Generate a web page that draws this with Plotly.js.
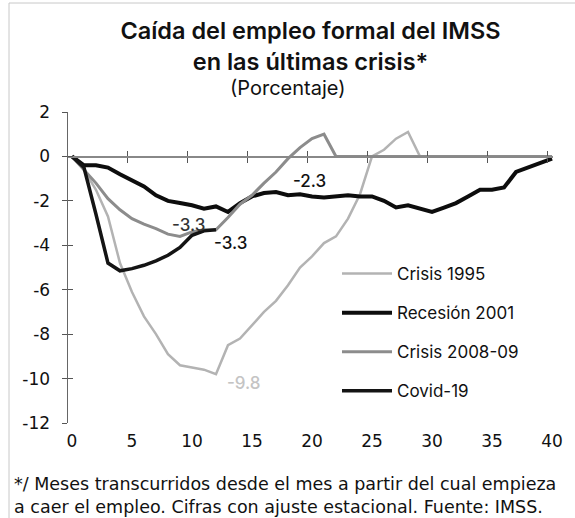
<!DOCTYPE html>
<html>
<head>
<meta charset="utf-8">
<script src="https://cdn.plot.ly/plotly-3.0.1.min.js"></script>
<style>html,body{margin:0;padding:0;background:#fff;}#chart{width:575px;height:518px;}</style>
</head>
<body>
<div id="chart"></div>
<script>
// Months elapsed since employment started to fall
const months = Array.from({length: 41}, (_, i) => i);

// Crisis 1995 (after recovery the series is plotted as zero)
const crisis1995 = [0, -0.6, -1.5, -2.7, -4.8, -6.1, -7.2, -8.0, -8.9, -9.4, -9.5, -9.6, -9.8,
  -8.5, -8.2, -7.6, -7.0, -6.5, -5.8, -5.0, -4.5, -3.9, -3.6, -2.8, -1.7, 0.0, 0.3, 0.8, 1.1,
  0, 0, 0, 0, 0, 0, 0, 0, 0, 0, 0, 0];

// Recesión 2001
const recesion2001 = [0, -0.4, -0.4, -0.5, -0.8, -1.1, -1.35, -1.75, -2.0, -2.1, -2.2, -2.35, -2.25,
  -2.5, -2.1, -1.8, -1.65, -1.6, -1.75, -1.7, -1.8, -1.85, -1.8, -1.75, -1.8, -1.8, -2.0, -2.3,
  -2.2, -2.35, -2.5, -2.3, -2.1, -1.8, -1.5, -1.5, -1.4, -0.7, -0.5, -0.3, -0.1];

// Crisis 2008-09 (after recovery the series is plotted as zero)
const crisis2008 = [0, -0.6, -1.2, -1.9, -2.4, -2.8, -3.05, -3.25, -3.5, -3.6, -3.4, -3.3, -3.3,
  -2.75, -2.15, -1.75, -1.2, -0.7, -0.1, 0.4, 0.8, 1.0,
  0, 0, 0, 0, 0, 0, 0, 0, 0, 0, 0, 0, 0, 0, 0, 0, 0, 0, 0];

// Covid-19
const covid19 = [0, -0.5, -2.6, -4.8, -5.15, -5.05, -4.9, -4.7, -4.45, -4.1, -3.55, -3.35, -3.3];

// Data labels
const labelText = ["-9.8", "-3.3", "-3.3", "-2.3"];
const labelX = [14.3, 9.7, 13.2, 19.8];
const labelY = [-10.2, -3.1, -3.9, -1.1];
const labelColor = ["#c4c4c4", "#333333", "#111111", "#111111"];

const yTicks = [2, 0, -2, -4, -6, -8, -10, -12];
const xTicks = [0, 5, 10, 15, 20, 25, 30, 35, 40];

const FONT = "Inter, 'Open Sans', sans-serif";
const WIDE = "'DejaVu Sans', Inter, sans-serif";

const traces = [
  {x: months, y: crisis1995, name: "Crisis 1995", mode: "lines",
   line: {color: "#b3b3b3", width: 2.5}, legendgroup: "a"},
  {x: months, y: recesion2001, name: "Recesión 2001", mode: "lines",
   line: {color: "#0d0d0d", width: 4}, legendgroup: "b"},
  {x: months, y: crisis2008, name: "Crisis 2008-09", mode: "lines",
   line: {color: "#8c8c8c", width: 3}, legendgroup: "c"},
  {x: months.slice(0, covid19.length), y: covid19, name: "Covid-19", mode: "lines",
   line: {color: "#141414", width: 3.5}, legendgroup: "d"}
];

const M = {l: 68, r: 22, t: 112, b: 95};
const W = 575, H = 518;
const pw = W - M.l - M.r, ph = H - M.t - M.b;
const px = v => (v - M.l) / pw;          // pixel -> paper x
const py = v => (H - M.b - v) / ph;      // pixel -> paper y

const annotations = labelText.map((t, i) => ({
  x: labelX[i], y: labelY[i], xref: "x", yref: "y", text: t, showarrow: false,
  font: {family: FONT, size: 17, color: labelColor[i], weight: 500}
}));
annotations.push({
  xref: "paper", yref: "paper", x: px(287.5), y: py(88), xanchor: "center", yanchor: "middle",
  text: "(Porcentaje)", showarrow: false, font: {family: FONT, size: 20, color: "#111"}
});
annotations.push({
  xref: "paper", yref: "paper", x: px(12), y: py(484), xanchor: "left", yanchor: "middle",
  text: "*/ Meses transcurridos desde el mes a partir del cual empieza", showarrow: false,
  font: {family: WIDE, size: 17.5, color: "#111"}
});
annotations.push({
  xref: "paper", yref: "paper", x: px(12), y: py(507), xanchor: "left", yanchor: "middle",
  text: "a caer el empleo. Cifras con ajuste estacional. Fuente: IMSS.", showarrow: false,
  font: {family: WIDE, size: 17.5, color: "#111"}
});

const xr = [-0.33, 40.08];
const layout = {
  width: W, height: H, margin: M,
  paper_bgcolor: "#fff", plot_bgcolor: "#fff",
  font: {family: FONT, color: "#111"},
  title: {text: "Caída del empleo formal del IMSS<br>en las últimas crisis*",
          font: {family: FONT, size: 23.5, weight: 600, color: "#111"},
          x: 0.5, xref: "paper", xanchor: "center", y: 1 - 39 / H, yanchor: "top", yref: "container"},
  showlegend: true,
  legend: {x: px(337), y: py(256), xanchor: "left", yanchor: "top",
           font: {family: FONT, size: 17, color: "#111"}, tracegroupgap: 14,
           itemwidth: 50, bgcolor: "rgba(0,0,0,0)"},
  xaxis: {range: xr, tickvals: xTicks, ticktext: xTicks.map(String), showgrid: false,
          zeroline: false, showline: false, ticks: "", tickfont: {family: WIDE, size: 17, color: "#111"},
          ticklabelstandoff: 6, fixedrange: true},
  xaxis2: {range: xr, overlaying: "x", anchor: "free", position: 12 / 14, side: "bottom",
           showline: true, linecolor: "#888", linewidth: 1.5, ticks: "outside", ticklen: 5,
           tickcolor: "#555", tick0: -0.35, dtick: 5, showticklabels: false, showgrid: false, zeroline: false},
  xaxis3: {range: xr, overlaying: "x", anchor: "free", position: 12 / 14, side: "bottom",
           showline: false, ticks: "inside", ticklen: 5,
           tickcolor: "#555", tick0: -0.35, dtick: 5, showticklabels: false, showgrid: false, zeroline: false},
  yaxis: {range: [-12, 2], tickvals: yTicks, ticktext: yTicks.map(String), showgrid: false,
          zeroline: false, showline: true, linecolor: "#666", linewidth: 1.5, ticks: "outside",
          ticklen: 5, tickcolor: "#555", tickfont: {family: WIDE, size: 17, color: "#111"},
          ticklabelstandoff: 8},
  yaxis2: {range: [-12, 2], overlaying: "y", anchor: "x", side: "left", tickvals: yTicks,
           ticks: "inside", ticklen: 5, tickcolor: "#555", showticklabels: false,
           showgrid: false, zeroline: false, showline: false},
  annotations: annotations,
  shapes: [
    {type: "line", xref: "paper", yref: "paper", x0: px(9), x1: px(575), y0: py(3), y1: py(3),
     line: {color: "#c8c8c8", width: 1}},
    {type: "line", xref: "paper", yref: "paper", x0: px(9), x1: px(9), y0: py(3), y1: py(518),
     line: {color: "#c8c8c8", width: 1}}
  ]
};

// invisible helper traces so the extra tick axes are drawn
traces.push({x: [0], y: [0], xaxis: "x2", yaxis: "y", mode: "markers", marker: {opacity: 0}, showlegend: false, hoverinfo: "skip"});
traces.push({x: [0], y: [0], xaxis: "x3", yaxis: "y", mode: "markers", marker: {opacity: 0}, showlegend: false, hoverinfo: "skip"});
traces.push({x: [0], y: [0], xaxis: "x", yaxis: "y2", mode: "markers", marker: {opacity: 0}, showlegend: false, hoverinfo: "skip"});

Plotly.newPlot("chart", traces, layout, {staticPlot: true, displayModeBar: false});
</script>
</body>
</html>
